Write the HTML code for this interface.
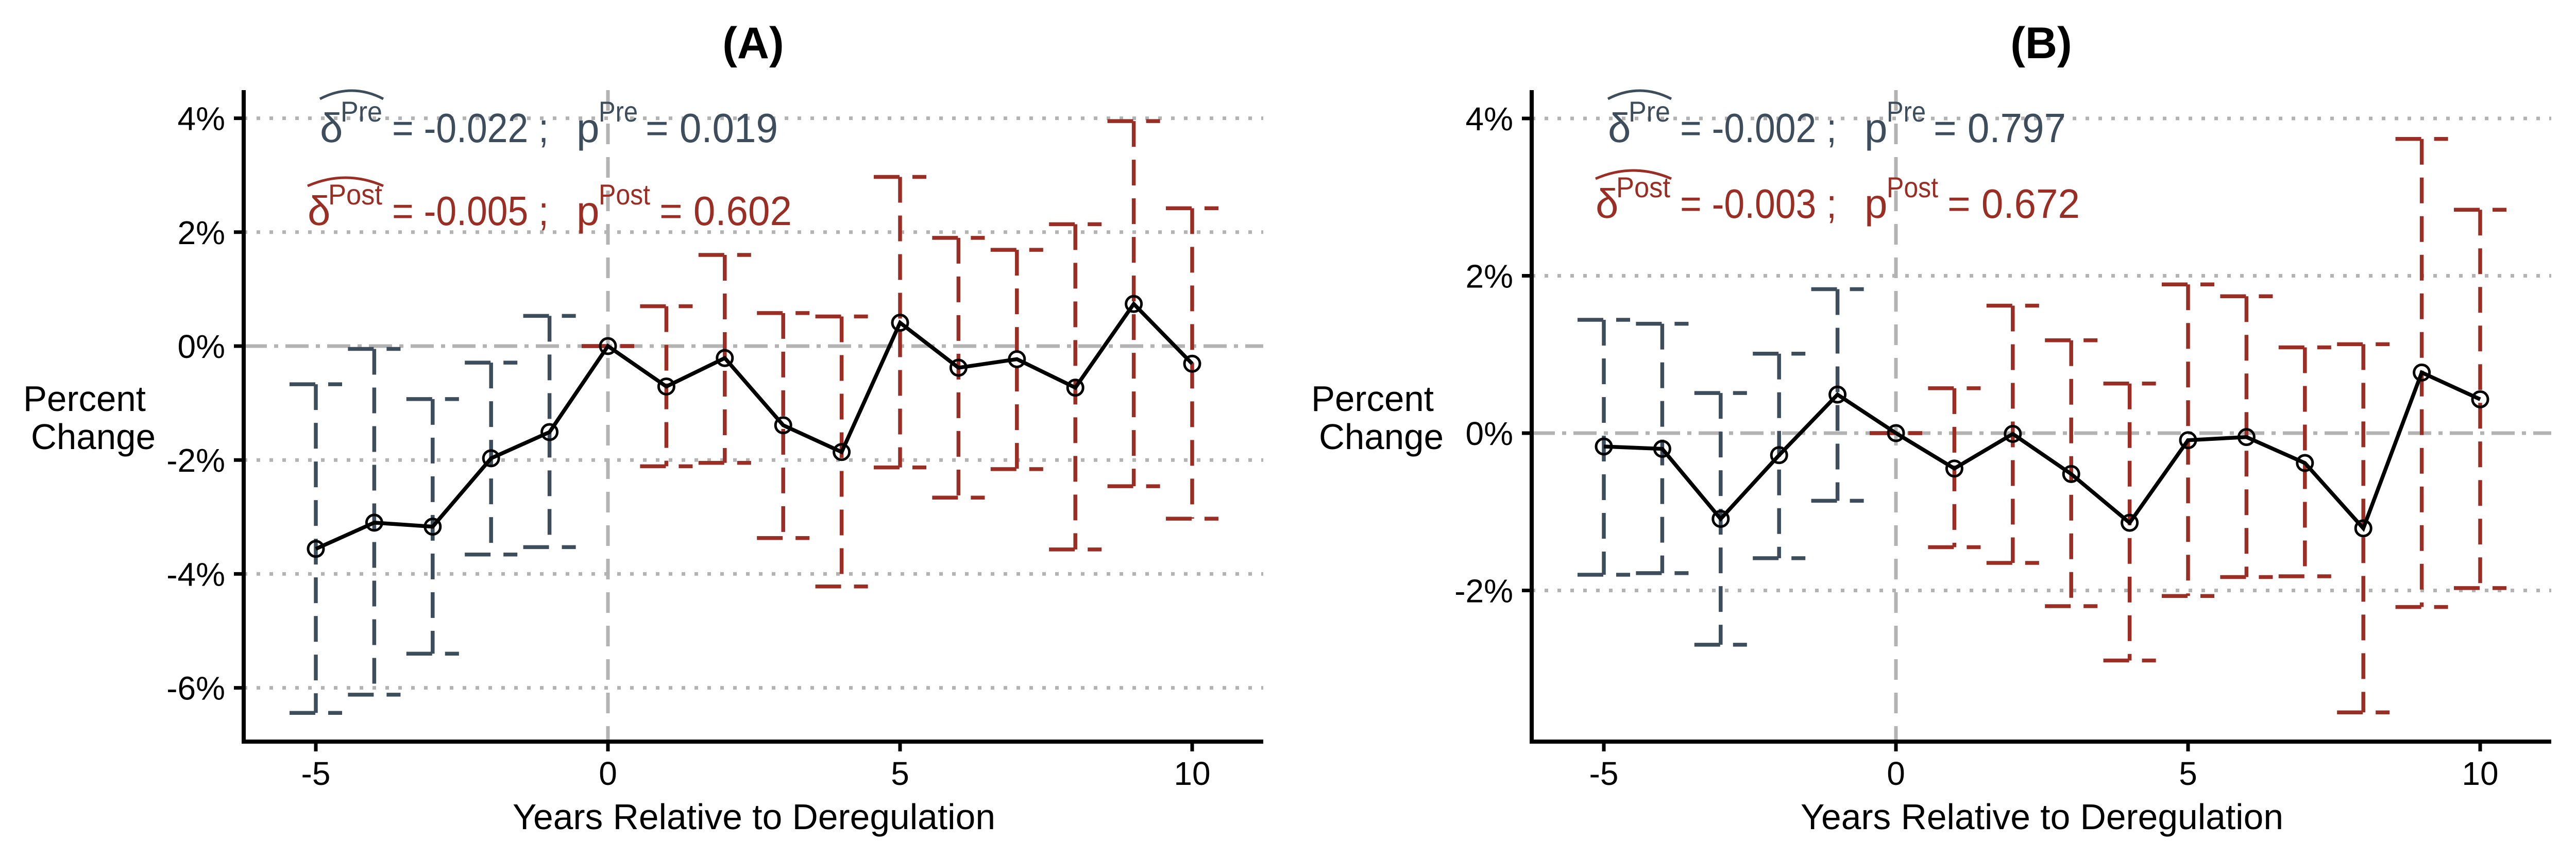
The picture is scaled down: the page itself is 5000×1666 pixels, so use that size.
<!DOCTYPE html>
<html><head><meta charset="utf-8"><style>
html,body{margin:0;padding:0;background:#fff}
svg{display:block}
text{font-family:"Liberation Sans",Arial,sans-serif}
</style></head><body>
<svg id="c" width="5000" height="1666" viewBox="0 0 5000 1666" xmlns="http://www.w3.org/2000/svg"></svg>
<script>
const years = [-5,-4,-3,-2,-1,0,1,2,3,4,5,6,7,8,9,10];
const estA = [-3.56,-3.10,-3.17,-1.97,-1.51,0,-0.71,-0.21,-1.39,-1.86,0.41,-0.38,-0.23,-0.73,0.74,-0.31];
const upA  = [-0.67,-0.05,-0.93,-0.29,0.53,0,0.70,1.60,0.58,0.52,2.97,1.90,1.69,2.14,3.95,2.42];
const loA  = [-6.44,-6.12,-5.40,-3.66,-3.53,0,-2.11,-2.05,-3.37,-4.22,-2.13,-2.66,-2.16,-3.57,-2.46,-3.03];
const estB = [-0.17,-0.20,-1.09,-0.28,0.49,0,-0.45,-0.01,-0.52,-1.14,-0.09,-0.05,-0.38,-1.21,0.77,0.43];
const upB  = [1.44,1.39,0.51,1.01,1.83,0,0.57,1.62,1.18,0.63,1.89,1.74,1.09,1.13,3.74,2.84];
const loB  = [-1.80,-1.78,-2.69,-1.59,-0.86,0,-1.45,-1.65,-2.20,-2.89,-2.07,-1.83,-1.82,-3.55,-2.21,-1.97];
const xTicks = [-5,0,5,10];
const yTicksA = [4,2,0,-2,-4,-6];
const yTicksB = [4,2,0,-2];
const statsA = {title:"(A)", pre:"-0.022", pPre:"0.019", post:"-0.005", pPost:"0.602"};
const statsB = {title:"(B)", pre:"-0.002", pPre:"0.797", post:"-0.003", pPost:"0.672"};

const NS="http://www.w3.org/2000/svg";
const svg=document.getElementById('c');
const PRE="#3d4d5c", POST="#9a2e24", GRID="#b3b3b3";
function el(tag,attrs,parent,txt){const e=document.createElementNS(NS,tag);for(const k in attrs)e.setAttribute(k,attrs[k]);if(txt!==undefined)e.textContent=txt;(parent||svg).appendChild(e);return e;}

function panel(ox, zeroY, perPct, est, up, lo, yTicks, st, key){
  const g=el('g',{});
  
  
  const X=v=>ox+613+(v+5)*113.4;
  const Y=v=>zeroY-v*perPct;
  const left=ox+473, right=ox+2452, top=175, bot=1440;
  yTicks.forEach(t=>{
    if(t===0) return;
    const l=el('line',{x1:left,x2:right,y1:Y(t),y2:Y(t),stroke:GRID,'stroke-width':7,'stroke-dasharray':'7 18'},g);
    
  });
  const zl=el('line',{x1:left,x2:right,y1:Y(0),y2:Y(0),stroke:GRID,'stroke-width':7,'stroke-dasharray':'45 14 8 14'},g);
  
  const vl=el('line',{x1:X(0),x2:X(0),y1:top,y2:bot,stroke:GRID,'stroke-width':7,'stroke-dasharray':'40 25'},g);
  
  years.forEach((yr,i)=>{
    const c=yr<0?PRE:POST, w=0.45*113.4, x=X(yr);
    const eg=el('g',{stroke:c,'stroke-width':7.5,'stroke-dasharray':'50 25',fill:'none'},g);
    
    el('line',{x1:x-w,x2:x+w,y1:Y(up[i]),y2:Y(up[i])},eg);
    el('line',{x1:x,x2:x,y1:Y(up[i]),y2:Y(lo[i])},eg);
    el('line',{x1:x-w,x2:x+w,y1:Y(lo[i]),y2:Y(lo[i])},eg);
  });
  const pl=el('polyline',{points:years.map((y,i)=>X(y)+','+Y(est[i])).join(' '),fill:'none',stroke:'#000','stroke-width':7.5},g);
  
  years.forEach((y,i)=>{
    const p=el('circle',{cx:X(y),cy:Y(est[i]),r:15,fill:'none',stroke:'#000','stroke-width':5},g);
    
  });
  const ya=el('line',{x1:left,x2:left,y1:top,y2:bot+4,stroke:'#000','stroke-width':8},g);
  
  const xa=el('line',{x1:left-4,x2:right,y1:bot,y2:bot,stroke:'#000','stroke-width':8},g);
  
  yTicks.forEach(t=>{
    el('line',{x1:left-19,x2:left,y1:Y(t),y2:Y(t),stroke:'#000','stroke-width':7},g);
    const tl=el('text',{x:left-36,y:Y(t)+23,'font-size':64,'text-anchor':'end',fill:'#000'},g,t+'%');
    
  });
  xTicks.forEach(t=>{
    el('line',{x1:X(t),x2:X(t),y1:bot,y2:bot+19,stroke:'#000','stroke-width':7},g);
    const tl=el('text',{x:X(t),y:1524,'font-size':64,'text-anchor':'middle',fill:'#000'},g,String(t));
    
  });
  const xt=el('text',{x:ox+995,y:1610,'font-size':70,textLength:937,lengthAdjust:'spacingAndGlyphs',fill:'#000'},g,'Years Relative to Deregulation');
  
  const yt=el('text',{'font-size':70,fill:'#000'},g);
  
  el('tspan',{x:ox+45,y:798,textLength:238,lengthAdjust:'spacingAndGlyphs'},yt,'Percent');
  el('tspan',{x:ox+60,y:872,textLength:242,lengthAdjust:'spacingAndGlyphs'},yt,'Change');
  const tt=el('text',{x:ox+1462,y:113,'font-size':86,'font-weight':'bold','text-anchor':'middle',fill:'#000'},g,st.title);
  
  function ann(row,c,base,hatY,dx,label,est,pv,pvX,pvEnd){
    const a=el('g',{fill:c},g);
    
    el('text',{x:ox+dx,y:base,'font-size':80},a,'δ');
    el('text',{x:ox+dx+40,y:base-40,'font-size':56,textLength:744-dx-42,lengthAdjust:'spacingAndGlyphs'},a,label);
    el('path',{d:`M${ox+dx} ${hatY+16} Q${ox+(dx+744)/2} ${hatY-16} ${ox+744} ${hatY+16}`,stroke:c,'stroke-width':5,fill:'none'},a);
    el('text',{x:ox+761,y:base,'font-size':80,textLength:304,lengthAdjust:'spacingAndGlyphs'},a,'= '+est+' ;');
    el('text',{x:ox+1119,y:base,'font-size':80},a,'p');
    el('text',{x:ox+1162,y:base-40,'font-size':56,textLength:label==='Pre'?76:100,lengthAdjust:'spacingAndGlyphs'},a,label);
    el('text',{x:ox+pvX,y:base,'font-size':80,textLength:pvEnd-pvX,lengthAdjust:'spacingAndGlyphs'},a,'= '+pv);
  }
  ann('pre',PRE,276,176,621,'Pre',st.pre,st.pPre,1253,1510);
  const pb = key==='a'?437:423;
  ann('post',POST,pb,pb-92,597,'Post',st.post,st.pPost,1280,1537);
}
panel(0,672,110.6,estA,upA,loA,yTicksA,statsA,'a');
panel(2500,841,152.75,estB,upB,loB,yTicksB,statsB,'b');
</script>
</body></html>
